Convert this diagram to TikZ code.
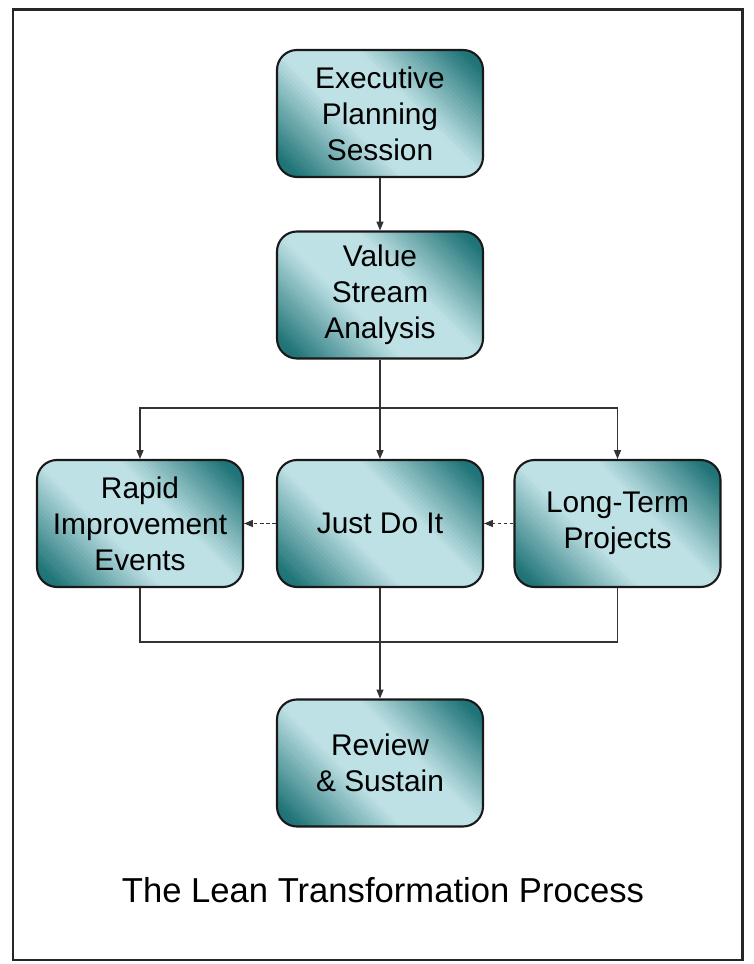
\documentclass[tikz,border=0pt]{standalone}
\usepackage{fontspec}
\setmainfont{Liberation Sans}
\usetikzlibrary{arrows.meta}

\definecolor{tealdark}{RGB}{32,116,119}
\definecolor{teallight}{RGB}{190,225,229}

\tikzset{
    stage/.style={draw=black!90,line width=1.2pt,rounded corners=0.4cm,
        minimum width=4.12cm,minimum height=2.54cm,align=center,fill=teallight,
        path picture={
            \coordinate (pc) at (path picture bounding box.center);
            \foreach \i in {0,...,67}{
                \pgfmathsetmacro\bandpos{-3.4+\i*0.1}
                \pgfmathtruncatemacro\darkpct{min(100,max(0,(abs(\bandpos+0.05)-0.8)*48))}
                \fill[tealdark!\darkpct!teallight,sharp corners]
                    ([shift={(\bandpos-3,3)}]pc) -- ([shift={(\bandpos+3,-3)}]pc)
                    -- ([shift={(\bandpos+3.12,-3)}]pc) -- ([shift={(\bandpos-2.88,3)}]pc) -- cycle;
            }
        },
        font=\fontsize{17}{20.5}\selectfont},
    conn/.style={draw=black!80,line width=0.6pt,-{Triangle[length=5pt,width=4pt]}},
    hint/.style={conn,dash pattern=on 2pt off 1.5pt}
}

\begin{document}
\begin{tikzpicture}
    \useasboundingbox (0,0) rectangle (15.06,19.28);

    % frame
    \draw[line width=1.7pt,color=black!85] (0.26,0.08) rectangle (14.84,19.08);

    % stages
    \node[stage] (exec)   at (7.6,17.01) {Executive\\Planning\\Session};
    \node[stage] (vsa)    at (7.6,13.38) {Value\\Stream\\Analysis};
    \node[stage] (rapid)  at (2.8,8.81)  {Rapid\\Improvement\\Events};
    \node[stage] (jdi)    at (7.6,8.81)  {Just Do It};
    \node[stage] (lt)     at (12.35,8.81) {Long-Term\\Projects};
    \node[stage] (review) at (7.6,4.02)  {Review\\\& Sustain};

    % title
    \node[anchor=base,font=\fontsize{19.7}{24}\selectfont] (title) at (7.66,1.22)
        {The Lean Transformation Process};

    % flow
    \coordinate (split) at (7.6,11.12);
    \coordinate (merge) at (7.6,6.44);
    \draw[conn] (exec) -- (vsa);
    \draw[draw=black!80,line width=0.6pt] (vsa.south) -- (split);
    \foreach \n in {rapid,jdi,lt}{
        \draw[conn] (split) -| (\n.north);
    }
    \draw[draw=black!80,line width=0.6pt] (rapid.south) |- (merge) -| (lt.south);
    \draw[conn] (jdi.south) -- (review.north);

    % feeds
    \draw[hint] (jdi.west) -- (rapid.east);
    \draw[hint] (lt.west) -- (jdi.east);
\end{tikzpicture}
\end{document}
